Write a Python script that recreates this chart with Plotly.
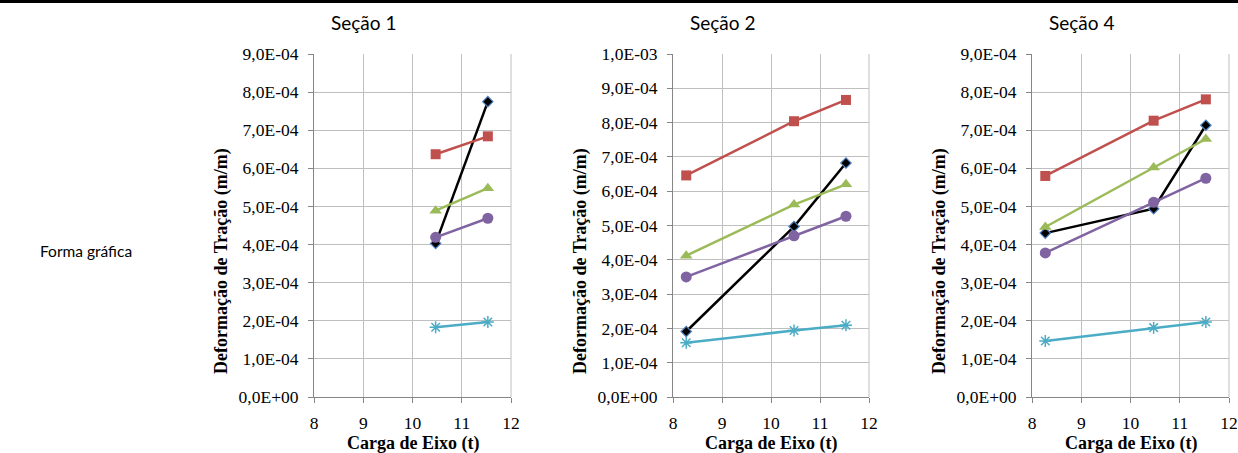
import plotly.graph_objects as go

# ---- data ----
titles = ["Seção 1", "Seção 2", "Seção 4"]
x_s1 = [10.47, 11.53]
x_s23 = [8.27, 10.47, 11.53]

s1_black = [4.03e-4, 7.75e-4]
s1_red = [6.37e-4, 6.84e-4]
s1_green = [4.89e-4, 5.48e-4]
s1_purple = [4.19e-4, 4.69e-4]
s1_cyan = [1.83e-4, 1.97e-4]

s2_black = [1.91e-4, 4.97e-4, 6.82e-4]
s2_red = [6.46e-4, 8.04e-4, 8.66e-4]
s2_green = [4.12e-4, 5.61e-4, 6.20e-4]
s2_purple = [3.50e-4, 4.70e-4, 5.27e-4]
s2_cyan = [1.58e-4, 1.94e-4, 2.09e-4]

s4_black = [4.30e-4, 4.94e-4, 7.13e-4]
s4_red = [5.80e-4, 7.25e-4, 7.81e-4]
s4_green = [4.46e-4, 6.02e-4, 6.77e-4]
s4_purple = [3.78e-4, 5.11e-4, 5.74e-4]
s4_cyan = [1.47e-4, 1.82e-4, 1.97e-4]

y_max = [9e-4, 1e-3, 9e-4]
x_ticks = [8, 9, 10, 11, 12]

panels = [
    (x_s1, s1_black, s1_red, s1_green, s1_purple, s1_cyan),
    (x_s23, s2_black, s2_red, s2_green, s2_purple, s2_cyan),
    (x_s23, s4_black, s4_red, s4_green, s4_purple, s4_cyan),
]

W, H = 1238, 453
plot_x = [(314, 511), (673, 869), (1032, 1229)]
plot_y = (54, 397)

styles = [
    dict(line=dict(color="#000000", width=2.5),
         marker=dict(symbol="diamond", size=8, color="#000000", line=dict(color="#4F81BD", width=1.2))),
    dict(line=dict(color="#C0504D", width=2.5),
         marker=dict(symbol="square", size=10, color="#C0504D")),
    dict(line=dict(color="#9BBB59", width=2.5),
         marker=dict(symbol="triangle-up", size=11, color="#9BBB59")),
    dict(line=dict(color="#8064A2", width=2.5),
         marker=dict(symbol="circle", size=11, color="#8064A2")),
    dict(line=dict(color="#4BACC6", width=2.5),
         marker=dict(symbol="asterisk-open", size=10, color="#4BACC6", line=dict(color="#4BACC6", width=1.5))),
]

fig = go.Figure()
serif = "Liberation Serif"
sans = "Lato"
tick_font = dict(family=serif, size=17.5, color="#000")

for i, p in enumerate(panels):
    xs = p[0]
    ax = "" if i == 0 else str(i + 1)
    for k, ys in enumerate(p[1:]):
        fig.add_trace(go.Scatter(x=xs, y=ys, mode="lines+markers",
                                 xaxis="x" + ax, yaxis="y" + ax, hoverinfo="skip",
                                 showlegend=False, cliponaxis=False, **styles[k]))
    x0, x1 = plot_x[i]
    dom_x = [x0 / W, x1 / W]
    dom_y = [1 - plot_y[1] / H, 1 - plot_y[0] / H]
    yt = [round(j * 1e-4, 6) for j in range(int(round(y_max[i] / 1e-4)) + 1)]
    ytext = [f"{v:.1E}".replace(".", ",") for v in yt]
    fig.update_layout(**{
        "xaxis" + ax: dict(domain=dom_x, range=[8, 12], tickmode="array", tickvals=x_ticks,
                           ticktext=[str(t) for t in x_ticks], tickfont=tick_font,
                           ticklabelstandoff=5,
                           showgrid=True, gridcolor="#BFBFBF", gridwidth=1,
                           zeroline=False, showline=True, linecolor="#868686", linewidth=1,
                           ticks="outside", ticklen=5, tickcolor="#868686",
                           anchor="y" + ax, automargin=False),
        "yaxis" + ax: dict(domain=dom_y, range=[0, y_max[i]], tickmode="array", tickvals=yt,
                           ticktext=ytext, tickfont=tick_font,
                           ticklabelstandoff=6,
                           showgrid=True, gridcolor="#BFBFBF", gridwidth=1,
                           zeroline=False, showline=True, linecolor="#868686", linewidth=1,
                           ticks="outside", ticklen=5, tickcolor="#868686",
                           anchor="x" + ax, automargin=False),
    })
    # plot area right border
    fig.add_shape(type="line", xref="paper", yref="paper",
                  x0=dom_x[1], x1=dom_x[1], y0=dom_y[0], y1=dom_y[1],
                  line=dict(color="#BFBFBF", width=1))
    cx = (x0 + x1) / 2
    fig.add_annotation(text=titles[i], xref="paper", yref="paper",
                       x=(cx - 49) / W, y=1 - 22 / H, showarrow=False,
                       font=dict(family=sans, size=19, color="#000"),
                       xanchor="center", yanchor="middle")
    fig.add_annotation(text="<b>Carga de Eixo (t)</b>", xref="paper", yref="paper",
                       x=cx / W, y=1 - 443 / H, showarrow=False,
                       font=dict(family=serif, size=18, color="#000"),
                       xanchor="center", yanchor="middle")
    fig.add_annotation(text="<b>Deformação de Tração (m/m)</b>", xref="paper", yref="paper",
                       x=(x0 - 93) / W, y=1 - 261 / H, showarrow=False, textangle=-90,
                       font=dict(family=serif, size=18, color="#000"),
                       xanchor="center", yanchor="middle")

fig.add_annotation(text="Forma gráfica", xref="paper", yref="paper",
                   x=38 / W, y=1 - 251 / H, showarrow=False,
                   font=dict(family=sans, size=15.5, color="#000"),
                   xanchor="left", yanchor="middle")

fig.add_shape(type="rect", xref="paper", yref="paper", x0=0, x1=1, y0=1 - 3 / H, y1=1,
              fillcolor="#000", line=dict(width=0))

fig.update_layout(width=W, height=H, margin=dict(l=0, r=0, t=0, b=0, pad=0, autoexpand=False),
                  font=dict(family=serif, size=16, color="#000"),
                  paper_bgcolor="white", plot_bgcolor="white")

fig.write_html("out.html", config={"responsive": False, "displayModeBar": False},
               post_script="document.body.style.margin='0';document.body.style.overflow='hidden';")
